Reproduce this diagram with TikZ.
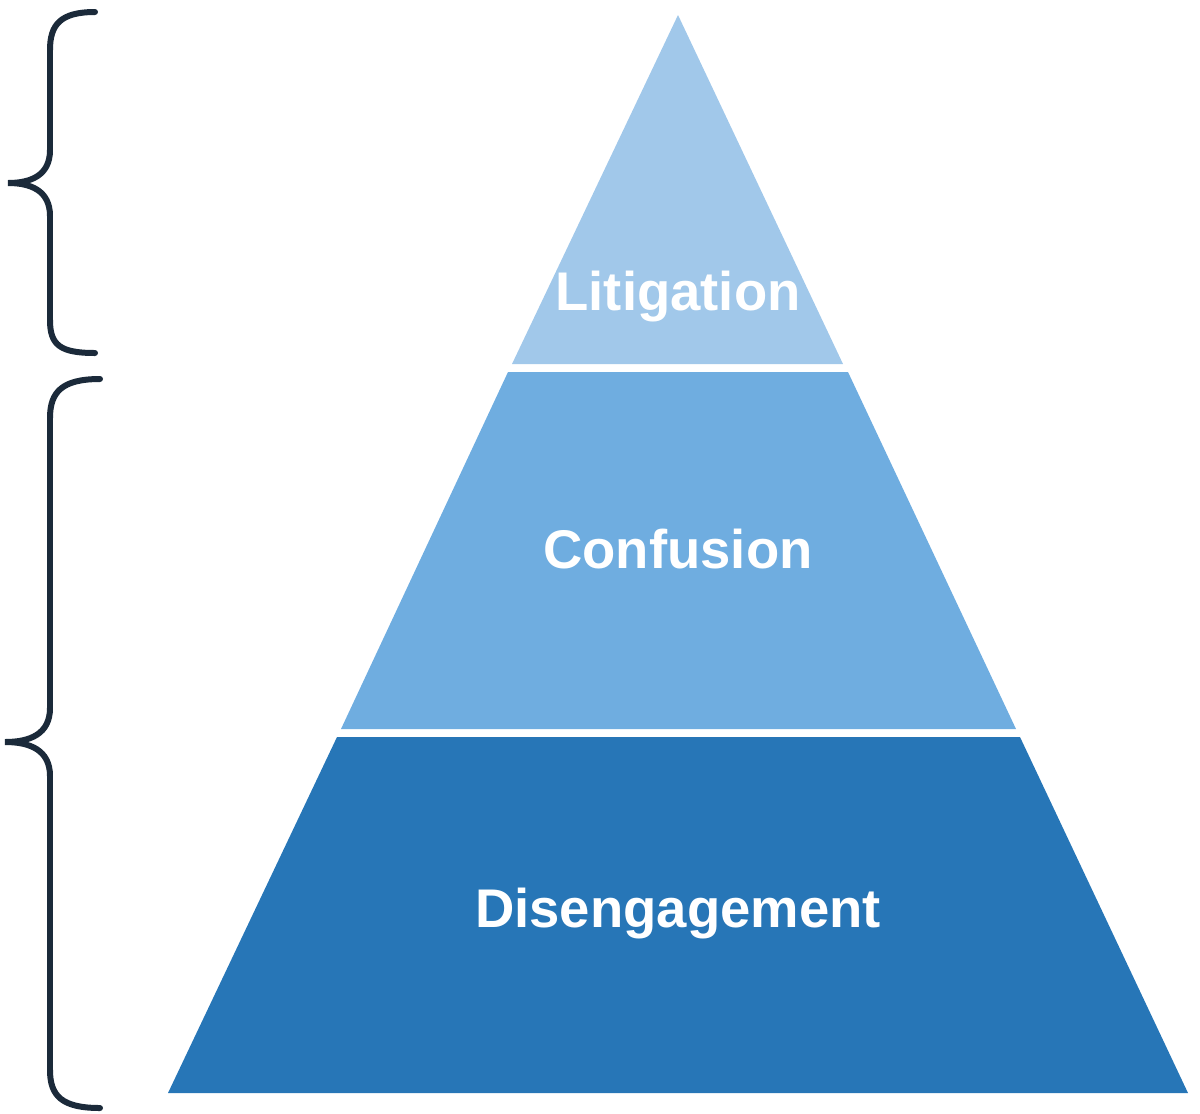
\documentclass[tikz,border=0pt]{standalone}
\usepackage{fontspec}
\setmainfont{Liberation Sans}
\usetikzlibrary{positioning, calc}

\definecolor{tierlight}{HTML}{A1C8EA}
\definecolor{tiermid}{HTML}{6FADE0}
\definecolor{tierdark}{HTML}{2776B7}
\definecolor{bracecol}{HTML}{1B2A3A}

\begin{document}
\begin{tikzpicture}[
        x=0.02cm, y=-0.02cm,
        tierlabel/.style={text=white, font=\fontsize{31}{36}\selectfont\bfseries},
        brace/.style={draw=bracecol, line width=0.12cm, line cap=round}
    ]
        \useasboundingbox (0,0) rectangle (1200,1113);

        % Pyramid tiers
        \fill[tierlight] (678,15) -- (843,364) -- (512,364) -- cycle;
        \fill[tiermid] (508,372) -- (848,372) -- (1016,729) -- (341,729) -- cycle;
        \fill[tierdark] (337,737) -- (1020,737) -- (1188,1093) -- (168,1093) -- cycle;

        \node[tierlabel] (litigation) at (678,297) {Litigation};
        \node[tierlabel] (confusion) at (678,549) {Confusion};
        \node[tierlabel] (disengagement) at (678,914) {Disengagement};

        % Braces
        \draw[brace] (95,12) .. controls (60,12) and (50,25) .. (50,50) -- (50,150)
            .. controls (50,176) and (30,183) .. (8,183)
            .. controls (30,183) and (50,190) .. (50,216) -- (50,320)
            .. controls (50,345) and (60,353) .. (95,353);
        \draw[brace] (100,379) .. controls (62,379) and (50,392) .. (50,418) -- (50,708)
            .. controls (50,734) and (30,742) .. (5,742)
            .. controls (30,742) and (50,750) .. (50,776) -- (50,1070)
            .. controls (50,1096) and (62,1108) .. (100,1108);
    \end{tikzpicture}
\end{document}
